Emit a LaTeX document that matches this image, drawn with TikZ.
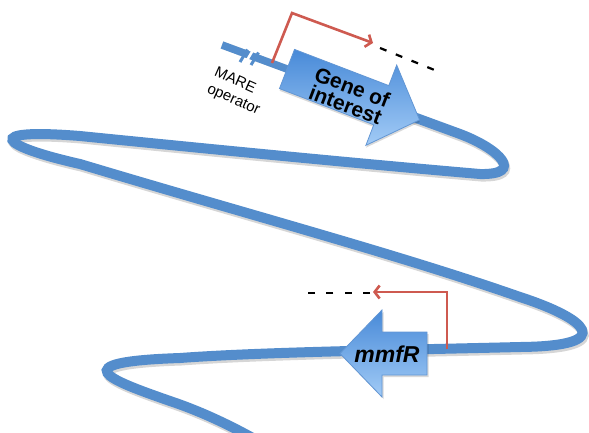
\documentclass[tikz,border=0pt]{standalone}
\usepackage{fontspec}
\setmainfont{Liberation Sans}
\usetikzlibrary{arrows.meta}
\definecolor{dna}{RGB}{84,141,204}
\definecolor{prom}{RGB}{206,90,80}
\definecolor{arrtop}{RGB}{72,138,216}
\definecolor{arrbot}{RGB}{162,203,246}
\definecolor{arredge}{RGB}{98,150,212}
\tikzset{
 strand/.style={draw=dna, line width=10pt},
 strandshadow/.style={draw=black, opacity=0.16, line width=10pt},
 genebox/.style={draw=arredge, line width=0.8pt, top color=arrtop, bottom color=arrbot},
 boxshadow/.style={fill=black, opacity=0.15},
 promoter/.style={draw=prom, line width=2.6pt, line join=miter, -{Straight Barb[length=5pt,width=13pt]}},
 dashline/.style={draw=black, line width=2.2pt},
 oplabel/.style={font=\fontsize{15}{18}\selectfont, align=left, inner sep=0pt},
 genetext/.style={font=\bfseries\fontsize{21}{19}\selectfont, align=center, inner sep=0pt},
 mmftext/.style={font=\bfseries\itshape\fontsize{23}{24}\selectfont, inner sep=0pt},
}
\def\mainstrand{(400,112) -- (460,134) .. controls (500,149) and (525,175) .. (480,174)
 .. controls (340,162) and (180,146) .. (80,136)
 .. controls (-20,128) and (0,146) .. (80,164)
 .. controls (250,215) and (400,255) .. (520,297)
 .. controls (585,318) and (620,346) .. (520,347)
 .. controls (400,350) and (260,352) .. (180,358)
 .. controls (60,362) and (110,380) .. (170,401)
 .. controls (200,411) and (230,425) .. (260,442)}
\begin{document}
\begin{tikzpicture}[x=1pt,y=-1pt]
\useasboundingbox (0,0) rectangle (589,432);
\clip (0,0) rectangle (589,432);
% coordinates
\coordinate (start) at (222,45);
\coordinate (gtail) at (287,69);
\coordinate (pg) at (272,63);
\coordinate (pgtop) at (292,13);
\coordinate (pgend) at (373,43);
\coordinate (dg1) at (380,48);
\coordinate (dg2) at (437,71);
\coordinate (pm) at (447,349);
\coordinate (pmtop) at (447,292);
\coordinate (pmend) at (373,292);
\coordinate (dm1) at (370,293);
\coordinate (dm2) at (308,293);
% strand shadow
\begin{scope}[shift={(1.2,2.5)}]
\draw[strandshadow] \mainstrand;
\draw[strandshadow, line width=7.5pt] (start) -- (gtail);
\end{scope}
% strand
\draw[strand] \mainstrand;
\draw[strand, line width=7.5pt] (start) -- (gtail);
% break marks
\draw[white, line width=2.5pt] (246.5,61) -- (252.5,51);
\draw[dna, line width=3pt] (240,62) -- (247.5,49.5);
\draw[dna, line width=3pt] (251,65) -- (258.5,52.5);
% gene of interest arrow
\begin{scope}[shift={(gtail)}, rotate=-21]
\fill[boxshadow, shift={(1,2)}] (0,-21) -- (101,-21) -- (101,-43) -- (142,0) -- (101,43) -- (101,21) -- (0,21) -- cycle;
\path[genebox] (0,-21) -- (101,-21) -- (101,-43) -- (142,0) -- (101,43) -- (101,21) -- (0,21) -- cycle;
\end{scope}
\node[genetext, rotate=-21] (gene) at (349,96) {Gene of\\interest};
% mmfR arrow
\fill[boxshadow, shift={(1.5,2)}] (340,353.5) -- (382,310) -- (382,332) -- (427,332) -- (427,375) -- (382,375) -- (382,397) -- cycle;
\path[genebox] (340,353.5) -- (382,310) -- (382,332) -- (427,332) -- (427,375) -- (382,375) -- (382,397) -- cycle;
\node[mmftext] (mmfr) at (387,354) {mmfR};
% promoters
\draw[promoter] (pg) -- (pgtop) -- (pgend);
\draw[promoter] (pm) -- (pmtop) -- (pmend);
\draw[dashline, dash pattern=on 7pt off 10pt] (dg1) -- (dg2);
\draw[dashline, dash pattern=on 7pt off 11.3pt] (dm1) -- (dm2);
% label
\node[oplabel, rotate=-24] (mare) at (237,92) {MARE\\operator};
\end{tikzpicture}
\end{document}
